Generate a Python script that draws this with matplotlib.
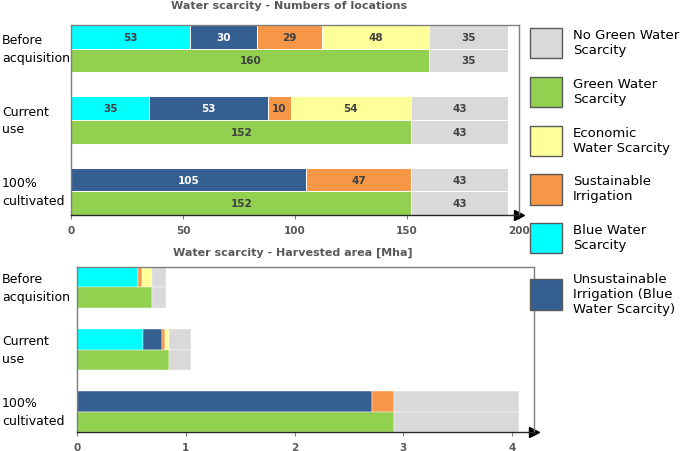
import matplotlib.pyplot as plt
import matplotlib.transforms as mtransforms
from matplotlib.patches import Patch

categories = ["Before\nacquisition", "Current\nuse", "100%\ncultivated"]

# number of locations
loc_blue = [53, 35, 0]
loc_unsust = [30, 53, 105]
loc_sust = [29, 10, 47]
loc_econ = [48, 54, 0]
loc_nogreen = [35, 43, 43]
loc_green = [160, 152, 152]

# harvested area [Mha]
area_blue = [0.56, 0.61, 0.0]
area_unsust = [0.0, 0.175, 2.71]
area_sust = [0.035, 0.025, 0.20]
area_econ = [0.095, 0.04, 0.0]
area_nogreen = [0.13, 0.20, 1.155]
area_green = [0.69, 0.85, 2.91]

legend_labels = [
    "No Green Water\nScarcity",
    "Green Water\nScarcity",
    "Economic\nWater Scarcity",
    "Sustainable\nIrrigation",
    "Blue Water\nScarcity",
    "Unsustainable\nIrrigation (Blue\nWater Scarcity)",
]

C_BLUE = "#00FFFF"
C_UNSUST = "#365F91"
C_SUST = "#F79646"
C_ECON = "#FFFF99"
C_NOGREEN = "#D9D9D9"
C_GREEN = "#92D050"
TXT = "#404040"
FONT = "DejaVu Sans"

plt.rcParams["font.family"] = FONT

fig = plt.figure(figsize=(6.85, 4.52), dpi=100)
ax1 = fig.add_axes([71 / 685, 1 - 216 / 452, 448 / 685, 190 / 452])
ax2 = fig.add_axes([77 / 685, 1 - 433 / 452, 457 / 685, 165 / 452])

H = 0.33


def stacked(ax, y, series, colors, labels=False, lw=0.7):
    left = [0] * len(y)
    for vals, col in zip(series, colors):
        bars = ax.barh(y, vals, height=H, left=left, color=col,
                       edgecolor="white", linewidth=lw)
        if labels:
            txt = [str(v) if v > 0 else "" for v in vals]
            tc = "white" if col == C_UNSUST else TXT
            ax.bar_label(bars, labels=txt, label_type="center", color=tc,
                         fontsize=7.5, fontweight="bold")
        left = [a + b for a, b in zip(left, vals)]


def style(ax, xmax, ticks):
    n = len(categories)
    ax.set_xlim(0, xmax)
    ax.set_ylim(n - 1 + H, -H)
    ax.set_xticks(ticks)
    ax.set_yticks([])
    ax.tick_params(axis="x", length=3, width=0.8, color="#7f7f7f",
                   labelsize=7.5, labelcolor="#595959", pad=4)
    for lab in ax.get_xticklabels():
        lab.set_fontweight("bold")
    for s in ["left", "top", "right"]:
        ax.spines[s].set_color("#7f7f7f")
        ax.spines[s].set_linewidth(1.0)
    ax.spines["bottom"].set_color("#262626")
    ax.spines["bottom"].set_linewidth(1.0)
    ax.plot(1, 0, ">", color="black", markersize=7,
            transform=ax.transAxes, clip_on=False)
    tr = mtransforms.blended_transform_factory(fig.transFigure, ax.transData)
    for i, c in enumerate(categories):
        ax.text(0.003, i, c, transform=tr, ha="left", va="center",
                fontsize=9, color="black", linespacing=1.45)


y_top = [i - H / 2 for i in range(len(categories))]
y_bot = [i + H / 2 for i in range(len(categories))]

stacked(ax1, y_top, [loc_blue, loc_unsust, loc_sust, loc_econ, loc_nogreen],
        [C_BLUE, C_UNSUST, C_SUST, C_ECON, C_NOGREEN], labels=True)
stacked(ax1, y_bot, [loc_green, loc_nogreen], [C_GREEN, C_NOGREEN], labels=True)
style(ax1, 200, [0, 50, 100, 150, 200])

stacked(ax2, y_top, [area_blue, area_unsust, area_sust, area_econ, area_nogreen],
        [C_BLUE, C_UNSUST, C_SUST, C_ECON, C_NOGREEN], lw=0.3)
stacked(ax2, y_bot, [area_green, area_nogreen], [C_GREEN, C_NOGREEN], lw=0.3)
style(ax2, 4.2, [0, 1, 2, 3, 4])

fig.text(289 / 685, 1 - 6 / 452, "Water scarcity - Numbers of locations",
         ha="center", va="center", fontsize=8, fontweight="bold", color="#595959")
fig.text(293 / 685, 1 - 253 / 452, "Water scarcity - Harvested area [Mha]",
         ha="center", va="center", fontsize=8, fontweight="bold", color="#595959")

handles = [Patch(facecolor=c, edgecolor="#595959", linewidth=1.0)
           for c in [C_NOGREEN, C_GREEN, C_ECON, C_SUST, C_BLUE, C_UNSUST]]
fig.legend(handles, legend_labels, loc="upper left",
           bbox_to_anchor=(530 / 685, 1 - 29 / 452), frameon=False,
           fontsize=9.5, handlelength=2.4, handleheight=3.15,
           labelspacing=1.4, handletextpad=0.85, borderaxespad=0,
           borderpad=0)

fig.savefig("out.png", dpi=100)
